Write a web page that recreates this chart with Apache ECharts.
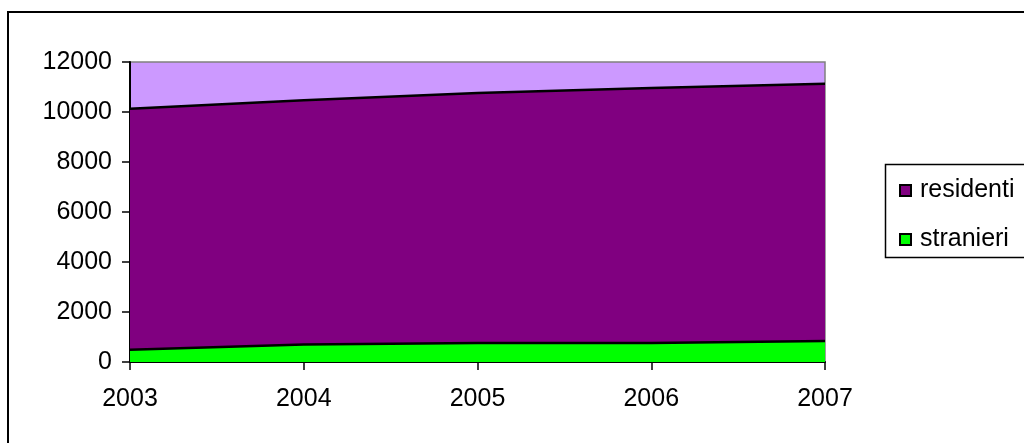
<!DOCTYPE html>
<html>
<head>
<meta charset="utf-8">
<script src="https://cdn.jsdelivr.net/npm/echarts@6/dist/echarts.min.js"></script>
<style>
html,body{margin:0;padding:0;background:#fff;}
#chart{width:1024px;height:443px;}
</style>
</head>
<body>
<div id="chart"></div>
<script>
var years = ['2003', '2004', '2005', '2006', '2007'];
var residenti = [10130, 10470, 10760, 10960, 11130];
var stranieri = [490, 700, 760, 760, 840];
var yTicks = { min: 0, max: 12000, interval: 2000 };

var font = 'Arial, "Liberation Sans", sans-serif';
var chart = echarts.init(document.getElementById('chart'), null, { renderer: 'canvas' });
chart.setOption({
  animation: false,
  backgroundColor: '#ffffff',
  graphic: [
    { type: 'rect', shape: { x: 8, y: 12, width: 1100, height: 500 },
      style: { fill: 'none', stroke: '#000', lineWidth: 2 }, z: -1 },
    { type: 'rect', shape: { x: 885.5, y: 164.5, width: 200, height: 93 },
      style: { fill: '#fff', stroke: '#000', lineWidth: 1.5 }, z: 0 }
  ],
  grid: {
    left: 130, right: 199, top: 62, bottom: 81,
    show: true, backgroundColor: '#CC99FF', borderColor: '#808080', borderWidth: 1.5
  },
  legend: {
    orient: 'vertical',
    left: 894, top: 173,
    itemWidth: 11, itemHeight: 11, itemGap: 24,
    z: 5,
    textStyle: { fontFamily: font, fontSize: 25, lineHeight: 25, color: '#000', padding: [0, 0, 0, 4] },
    data: [
      { name: 'residenti', icon: 'rect', itemStyle: { color: '#800080', borderColor: '#000', borderWidth: 2 } },
      { name: 'stranieri', icon: 'rect', itemStyle: { color: '#00FF00', borderColor: '#000', borderWidth: 2 } }
    ]
  },
  xAxis: {
    type: 'category', data: years, boundaryGap: false,
    axisLine: { lineStyle: { color: '#000', width: 2 } },
    axisTick: { show: true, length: 8, lineStyle: { color: '#000', width: 1.5 } },
    axisLabel: { color: '#000', fontFamily: font, fontSize: 25, margin: 25 },
    splitLine: { show: false }
  },
  yAxis: {
    type: 'value', min: yTicks.min, max: yTicks.max, interval: yTicks.interval,
    axisLine: { show: true, lineStyle: { color: '#000', width: 2 } },
    axisTick: { show: true, length: 8, lineStyle: { color: '#000', width: 1.5 } },
    axisLabel: { color: '#000', fontFamily: font, fontSize: 25, margin: 18,
      formatter: function (v) { return String(v); } },
    splitLine: { show: false }
  },
  series: [
    { name: 'residenti', type: 'line', data: residenti, symbol: 'none',
      itemStyle: { color: '#800080' },
      lineStyle: { color: '#000', width: 2.5 },
      areaStyle: { color: '#800080', opacity: 1 } },
    { name: 'stranieri', type: 'line', data: stranieri, symbol: 'none',
      itemStyle: { color: '#00FF00' },
      lineStyle: { color: '#000', width: 2.5 },
      areaStyle: { color: '#00FF00', opacity: 1 } }
  ]
});
</script>
</body>
</html>
